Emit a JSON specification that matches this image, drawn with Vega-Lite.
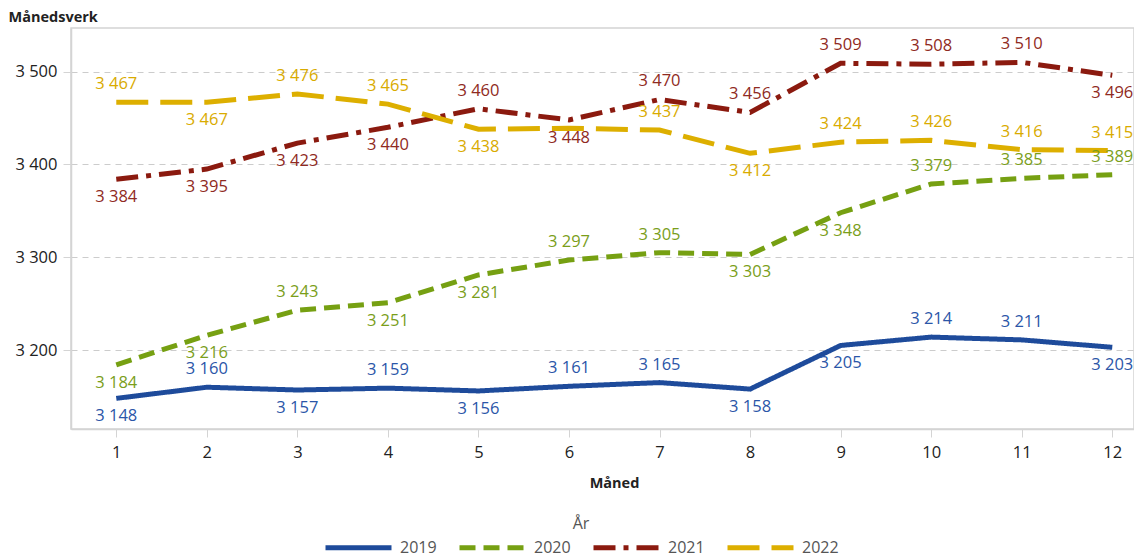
{
  "$schema": "https://vega.github.io/schema/vega-lite/v6.json",
  "autosize": {"type": "none"},
  "padding": {"left": 71, "top": 28, "right": 0, "bottom": 129},
  "width": 1063,
  "height": 401,
  "background": "white",
  "config": {
    "font": "Open Sans",
    "view": {"stroke": "#d4d4d4", "strokeWidth": 1.5},
    "axis": {"labelFont": "Open Sans", "titleFont": "Open Sans"}
  },
  "data": {
    "values": [
      {"year": "2019", "month": 1, "value": 3148},
      {"year": "2019", "month": 2, "value": 3160},
      {"year": "2019", "month": 3, "value": 3157},
      {"year": "2019", "month": 4, "value": 3159},
      {"year": "2019", "month": 5, "value": 3156},
      {"year": "2019", "month": 6, "value": 3161},
      {"year": "2019", "month": 7, "value": 3165},
      {"year": "2019", "month": 8, "value": 3158},
      {"year": "2019", "month": 9, "value": 3205},
      {"year": "2019", "month": 10, "value": 3214},
      {"year": "2019", "month": 11, "value": 3211},
      {"year": "2019", "month": 12, "value": 3203},
      {"year": "2020", "month": 1, "value": 3184},
      {"year": "2020", "month": 2, "value": 3216},
      {"year": "2020", "month": 3, "value": 3243},
      {"year": "2020", "month": 4, "value": 3251},
      {"year": "2020", "month": 5, "value": 3281},
      {"year": "2020", "month": 6, "value": 3297},
      {"year": "2020", "month": 7, "value": 3305},
      {"year": "2020", "month": 8, "value": 3303},
      {"year": "2020", "month": 9, "value": 3348},
      {"year": "2020", "month": 10, "value": 3379},
      {"year": "2020", "month": 11, "value": 3385},
      {"year": "2020", "month": 12, "value": 3389},
      {"year": "2021", "month": 1, "value": 3384},
      {"year": "2021", "month": 2, "value": 3395},
      {"year": "2021", "month": 3, "value": 3423},
      {"year": "2021", "month": 4, "value": 3440},
      {"year": "2021", "month": 5, "value": 3460},
      {"year": "2021", "month": 6, "value": 3448},
      {"year": "2021", "month": 7, "value": 3470},
      {"year": "2021", "month": 8, "value": 3456},
      {"year": "2021", "month": 9, "value": 3509},
      {"year": "2021", "month": 10, "value": 3508},
      {"year": "2021", "month": 11, "value": 3510},
      {"year": "2021", "month": 12, "value": 3496},
      {"year": "2022", "month": 1, "value": 3467},
      {"year": "2022", "month": 2, "value": 3467},
      {"year": "2022", "month": 3, "value": 3476},
      {"year": "2022", "month": 4, "value": 3465},
      {"year": "2022", "month": 5, "value": 3438},
      {"year": "2022", "month": 6, "value": 3439},
      {"year": "2022", "month": 7, "value": 3437},
      {"year": "2022", "month": 8, "value": 3412},
      {"year": "2022", "month": 9, "value": 3424},
      {"year": "2022", "month": 10, "value": 3426},
      {"year": "2022", "month": 11, "value": 3416},
      {"year": "2022", "month": 12, "value": 3415}
    ]
  },
  "transform": [
    {"calculate": "datum.year + '-' + datum.month", "as": "key"},
    {"calculate": "replace(format(datum.value, ','), ',', ' ')", "as": "label"}
  ],
  "encoding": {
    "x": {
      "field": "month", "type": "quantitative",
      "scale": {"domain": [0.5, 12.24], "nice": false, "zero": false},
      "axis": {
        "title": "Måned", "values": [1,2,3,4,5,6,7,8,9,10,11,12],
        "grid": false, "domain": true, "domainColor": "#d4d4d4", "domainWidth": 1.5,
        "tickColor": "#d4d4d4", "tickSize": 8, "labelFontSize": 16.5, "labelColor": "#222",
        "labelPadding": 7, "titleFontSize": 14.5, "titleFontWeight": "bold", "titleColor": "#222",
        "titlePadding": 16, "titleX": 543
      }
    },
    "y": {
      "field": "value", "type": "quantitative",
      "scale": {"domain": [3115, 3547], "nice": false, "zero": false},
      "axis": {
        "title": "Månedsverk", "values": [3200, 3300, 3400, 3500],
        "labelExpr": "replace(format(datum.value, ','), ',', ' ')",
        "grid": true, "gridDash": [6, 5], "gridColor": "#cccccc", "gridWidth": 1,
        "domain": true, "domainColor": "#d4d4d4", "domainWidth": 1.5,
        "tickColor": "#d4d4d4", "tickSize": 8, "labelFontSize": 16.5, "labelColor": "#222",
        "labelPadding": 6,
        "titleAngle": 0, "titleX": -63, "titleY": -11, "titleAlign": "left", "titleBaseline": "middle",
        "titleFontSize": 14.5, "titleFontWeight": "bold", "titleColor": "#222"
      }
    }
  },
  "layer": [
    {
      "mark": {"type": "line", "strokeWidth": 5, "strokeCap": "butt"},
      "encoding": {
        "color": {
          "field": "year", "type": "nominal",
          "scale": {"domain": ["2019","2020","2021","2022"], "range": ["#1e4b9b", "#76a012", "#8b1a0f", "#ddaf00"]},
          "legend": {
            "title": "År", "orient": "none", "legendX": 252, "legendY": 488, "direction": "horizontal",
            "titleAnchor": "middle", "titleFontWeight": "normal", "titleFontSize": 16, "titleColor": "#555",
            "titleFont": "Open Sans", "labelFont": "Open Sans",
            "labelFontSize": 16, "labelColor": "#555", "symbolType": "M-1,0H5", "symbolSize": 484,
            "symbolStrokeWidth": 5, "columnPadding": 12, "labelOffset": 50, "titlePadding": 2
          }
        },
        "strokeDash": {
          "field": "year", "type": "nominal",
          "scale": {"domain": ["2019","2020","2021","2022"], "range": [[1, 0], [16, 8], [22, 8, 5, 8], [32, 12]]},
          "legend": {
            "title": "År", "orient": "none", "legendX": 252, "legendY": 488, "direction": "horizontal",
            "titleAnchor": "middle", "titleFontWeight": "normal", "titleFontSize": 16, "titleColor": "#555",
            "titleFont": "Open Sans", "labelFont": "Open Sans",
            "labelFontSize": 16, "labelColor": "#555", "symbolType": "M-1,0H5", "symbolSize": 484,
            "symbolStrokeWidth": 5, "columnPadding": 12, "labelOffset": 50, "titlePadding": 2
          }
        }
      }
    },
    {
      "transform": [
        {"filter": "indexof(['2019-2','2019-4','2019-6','2019-7','2019-10','2019-11','2020-3','2020-6','2020-7','2020-10','2020-11','2020-12','2021-5','2021-7','2021-8','2021-9','2021-10','2021-11','2022-1','2022-3','2022-4','2022-7','2022-9','2022-10','2022-11','2022-12'], datum.key) >= 0"}
      ],
      "mark": {"type": "text", "dy": -18, "fontSize": 16.5, "font": "Open Sans"},
      "encoding": {
        "text": {"field": "label"},
        "fill": {
          "field": "year", "type": "nominal",
          "scale": {"domain": ["2019","2020","2021","2022"], "range": ["#2b56a8", "#7a9e1a", "#8f2a22", "#d9ab00"]},
          "legend": null
        }
      }
    },
    {
      "transform": [
        {"filter": "indexof(['2019-1','2019-3','2019-5','2019-8','2019-9','2019-12','2020-1','2020-2','2020-4','2020-5','2020-8','2020-9','2021-1','2021-2','2021-3','2021-4','2021-6','2021-12','2022-2','2022-5','2022-8'], datum.key) >= 0"}
      ],
      "mark": {"type": "text", "dy": 18, "fontSize": 16.5, "font": "Open Sans"},
      "encoding": {
        "text": {"field": "label"},
        "fill": {
          "field": "year", "type": "nominal",
          "scale": {"domain": ["2019","2020","2021","2022"], "range": ["#2b56a8", "#7a9e1a", "#8f2a22", "#d9ab00"]},
          "legend": null
        }
      }
    }
  ]
}
